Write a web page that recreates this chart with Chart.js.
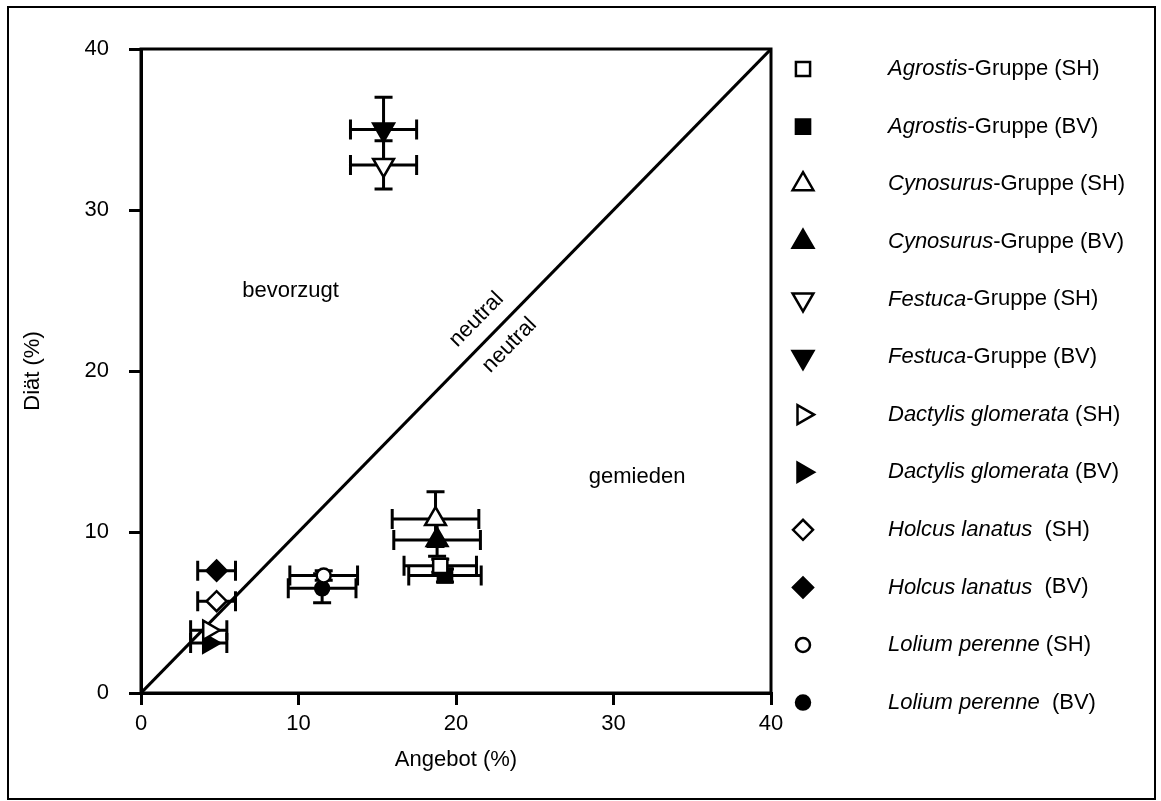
<!DOCTYPE html>
<html><head><meta charset="utf-8">
<script src="https://cdn.jsdelivr.net/npm/chart.js@4"></script>
<style>html,body{margin:0;padding:0;background:#fff}canvas{display:block}</style>
</head><body>
<canvas id="c" width="1161" height="801"></canvas>
<script>
const FONT = '"Liberation Sans", Arial, Helvetica, sans-serif';

// ---- data ----
const nameItalic = ['Agrostis','Agrostis','Cynosurus','Cynosurus','Festuca','Festuca',
  'Dactylis glomerata','Dactylis glomerata','Holcus lanatus','Holcus lanatus','Lolium perenne','Lolium perenne'];
const nameSuffix = ['-Gruppe (SH)','-Gruppe (BV)','-Gruppe (SH)','-Gruppe (BV)','-Gruppe (SH)','-Gruppe (BV)',
  ' (SH)',' (BV)','  (SH)','  (BV)',' (SH)','  (BV)'];
const angebot    = [19.0, 19.3, 18.7, 18.8, 15.4, 15.4, 4.3, 4.3, 4.8, 4.8, 11.6, 11.5];
const diaet      = [7.9, 7.3, 10.8, 9.5, 32.8, 35.0, 3.9, 3.1, 5.7, 7.6, 7.3, 6.5];
const angebotErr = [2.3, 2.3, 2.75, 2.75, 2.1, 2.1, 1.15, 1.15, 1.2, 1.2, 2.15, 2.15];
const diaetErr   = [0.4, 0.4, 1.7, 1.0, 1.5, 2.0, 0, 0, 0, 0, 0.3, 0.9];
const markerShape = ['rect','rect','triangle','triangle','triangle','triangle','triangle','triangle','rectRot','rectRot','circle','circle'];
const markerRotation = [0,0,0,0,180,180,90,90,0,0,0,0];
const markerRadius = [10,10,12,12,12,12,11,11,10,10,7,7];
const filled = [false,true,false,true,false,true,false,true,false,true,false,true];
const neutralLine = [{x:0,y:0},{x:40,y:40}];
const xTicks = [0,10,20,30,40];
const yTicks = [0,10,20,30,40];
const regionLabels = [
  {text:'bevorzugt', x:9.5, y:25.0, rot:0},
  {text:'gemieden', x:31.5, y:13.4, rot:0},
  {text:'neutral', x:21.3, y:23.2, rot:-45.6},
  {text:'neutral', x:23.4, y:21.6, rot:-45.6}
];

// ---- datasets ----
const datasets = angebot.map((v,i)=>({
  label: nameItalic[i] + nameSuffix[i],
  data: [{x:v, y:diaet[i]}],
  pointStyle: markerShape[i],
  rotation: markerRotation[i],
  pointRadius: markerRadius[i],
  pointHoverRadius: markerRadius[i],
  backgroundColor: filled[i] ? '#000' : '#fff',
  borderColor: '#000',
  pointBorderWidth: 2.5,
  showLine: false,
  order: 1
}));
datasets.push({
  label:'neutral', data: neutralLine, showLine:true, borderColor:'#000', borderWidth:3,
  pointRadius:0, fill:false, order:10
});

const errorBars = {
  id:'errorBars',
  beforeDatasetsDraw(chart){
    const {ctx, scales:{x, y}} = chart;
    ctx.save();
    ctx.strokeStyle = '#000';
    ctx.lineWidth = 3;
    angebot.forEach((v,i)=>{
      const px = x.getPixelForValue(v), py = y.getPixelForValue(diaet[i]);
      const ex = angebotErr[i], ey = diaetErr[i];
      if (ex > 0){
        const l = x.getPixelForValue(v-ex), r = x.getPixelForValue(v+ex);
        ctx.beginPath();
        ctx.moveTo(l,py); ctx.lineTo(r,py);
        ctx.moveTo(l,py-10); ctx.lineTo(l,py+10);
        ctx.moveTo(r,py-10); ctx.lineTo(r,py+10);
        ctx.stroke();
      }
      if (ey > 0){
        const t = y.getPixelForValue(diaet[i]+ey), b = y.getPixelForValue(diaet[i]-ey);
        ctx.beginPath();
        ctx.moveTo(px,t); ctx.lineTo(px,b);
        ctx.moveTo(px-9,t); ctx.lineTo(px+9,t);
        ctx.moveTo(px-9,b); ctx.lineTo(px+9,b);
        ctx.stroke();
      }
    });
    ctx.restore();
  }
};

const decorations = {
  id:'decorations',
  afterDraw(chart){
    const {ctx, chartArea:a, scales:{x, y}} = chart;
    ctx.save();
    ctx.strokeStyle = '#000';
    ctx.lineWidth = 3;
    ctx.strokeRect(a.left, a.top, a.right-a.left, a.bottom-a.top);
    ctx.lineWidth = 2;
    ctx.strokeRect(8, 7, 1147, 792);
    ctx.fillStyle = '#000';
    ctx.font = '22px ' + FONT;
    ctx.textAlign = 'center';
    ctx.textBaseline = 'middle';
    regionLabels.forEach(l=>{
      ctx.save();
      ctx.translate(x.getPixelForValue(l.x), y.getPixelForValue(l.y));
      ctx.rotate(l.rot*Math.PI/180);
      ctx.fillText(l.text, 0, 0);
      ctx.restore();
    });
    const mx = 803, tx = 888, y0 = 69, dy = 57.6;
    ctx.textAlign = 'left';
    angebot.forEach((v,i)=>{
      const yy = y0 + i*dy;
      ctx.fillStyle = filled[i] ? '#000' : '#fff';
      ctx.strokeStyle = '#000';
      ctx.lineWidth = 2.5;
      Chart.helpers.drawPoint(ctx, {pointStyle: markerShape[i], rotation: markerRotation[i],
        radius: markerRadius[i], borderWidth: 2.5}, mx, yy);
      ctx.fillStyle = '#000';
      ctx.font = 'italic 22px ' + FONT;
      ctx.fillText(nameItalic[i], tx, yy);
      const w = ctx.measureText(nameItalic[i]).width;
      ctx.font = '22px ' + FONT;
      ctx.fillText(nameSuffix[i], tx + w, yy);
    });
    ctx.restore();
  }
};

new Chart(document.getElementById('c'), {
  type:'scatter',
  data:{datasets},
  options:{
    responsive:false, animation:false, devicePixelRatio:1,
    layout:{padding:{left:0, top:49, right:390, bottom:0}},
    plugins:{legend:{display:false}, tooltip:{enabled:false}},
    scales:{
      x:{type:'linear', min:0, max:40, position:'bottom',
        afterBuildTicks(s){ s.ticks = xTicks.map(v=>({value:v})); },
        ticks:{color:'#000', font:{family:FONT, size:22}, padding:6, maxRotation:0},
        grid:{drawOnChartArea:false, drawTicks:true, tickLength:12, color:'#000', lineWidth:3},
        border:{display:true, color:'#000', width:3},
        title:{display:true, text:'Angebot (%)', color:'#000', font:{family:FONT, size:22}, padding:{top:0, bottom:28}},
        afterFit(s){ s.height = 108; }
      },
      y:{type:'linear', min:0, max:40, position:'left',
        afterBuildTicks(s){ s.ticks = yTicks.map(v=>({value:v})); },
        ticks:{color:'#000', font:{family:FONT, size:22}, padding:20},
        grid:{drawOnChartArea:false, drawTicks:true, tickLength:12, color:'#000', lineWidth:3},
        border:{display:true, color:'#000', width:3},
        title:{display:true, text:'Diät (%)', color:'#000', font:{family:FONT, size:22}, padding:{top:20, bottom:0}},
        afterFit(s){ s.width = 141; }
      }
    }
  },
  plugins:[errorBars, decorations]
});
</script>
</body></html>
